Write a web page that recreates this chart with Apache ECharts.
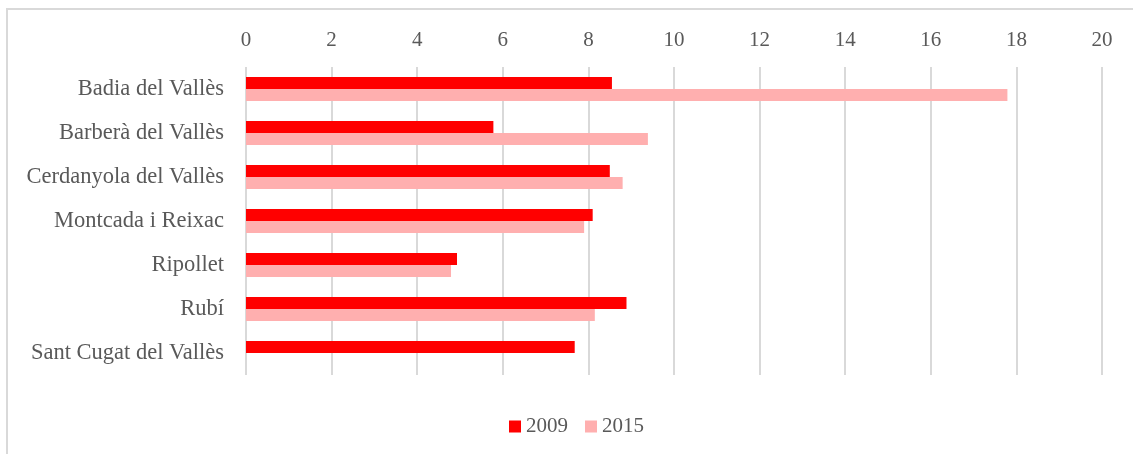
<!DOCTYPE html>
<html>
<head>
<meta charset="utf-8">
<script src="https://cdn.jsdelivr.net/npm/echarts@6/dist/echarts.min.js"></script>
<style>
  html, body { margin: 0; padding: 0; background: #fff; }
  #chart { width: 1133px; height: 454px; }
</style>
</head>
<body>
<div id="chart"></div>
<script>
// municipis (de dalt a baix)
var municipis = ['Badia del Vallès', 'Barberà del Vallès', 'Cerdanyola del Vallès', 'Montcada i Reixac', 'Ripollet', 'Rubí', 'Sant Cugat del Vallès'];
var valors2009 = [8.55, 5.78, 8.50, 8.10, 4.93, 8.89, 7.68];
var valors2015 = [17.79, 9.39, 8.80, 7.90, 4.79, 8.15, null];
var ticksX = { min: 0, max: 20, interval: 2 };

var font = '"Liberation Serif", "DejaVu Serif", serif';

var chart = echarts.init(document.getElementById('chart'));
chart.setOption({
  animation: false,
  textStyle: { fontFamily: font },
  graphic: [{
    type: 'rect',
    shape: { x: 7, y: 9, width: 1140, height: 460 },
    style: { fill: 'none', stroke: '#d9d9d9', lineWidth: 2 },
    silent: true
  }],
  legend: {
    top: 411,
    left: 504,
    itemWidth: 12,
    itemHeight: 12,
    itemGap: 17,
    icon: 'rect',
    textStyle: { fontFamily: font, fontSize: 21, color: '#595959' },
    data: ['2009', '2015']
  },
  grid: { left: 246, right: 31, top: 67, height: 308, containLabel: false },
  xAxis: {
    type: 'value',
    position: 'top',
    min: ticksX.min,
    max: ticksX.max,
    interval: ticksX.interval,
    axisLine: { show: false },
    axisTick: { show: false },
    axisLabel: { fontFamily: font, fontSize: 21, color: '#595959', margin: 16 },
    splitLine: { show: true, lineStyle: { color: '#d9d9d9', width: 2 } }
  },
  yAxis: {
    type: 'category',
    inverse: true,
    data: municipis,
    axisLine: { show: false },
    axisTick: { show: false },
    axisLabel: { fontFamily: font, fontSize: 22.5, color: '#595959', margin: 22 }
  },
  series: [{
    name: '2009',
    type: 'bar',
    data: valors2009,
    itemStyle: { color: '#ff0000' },
    barGap: '0%',
    barCategoryGap: '45%'
  }, {
    name: '2015',
    type: 'bar',
    data: valors2015,
    itemStyle: { color: '#ffafaf' },
    barGap: '0%',
    barCategoryGap: '45%'
  }]
});
</script>
</body>
</html>
